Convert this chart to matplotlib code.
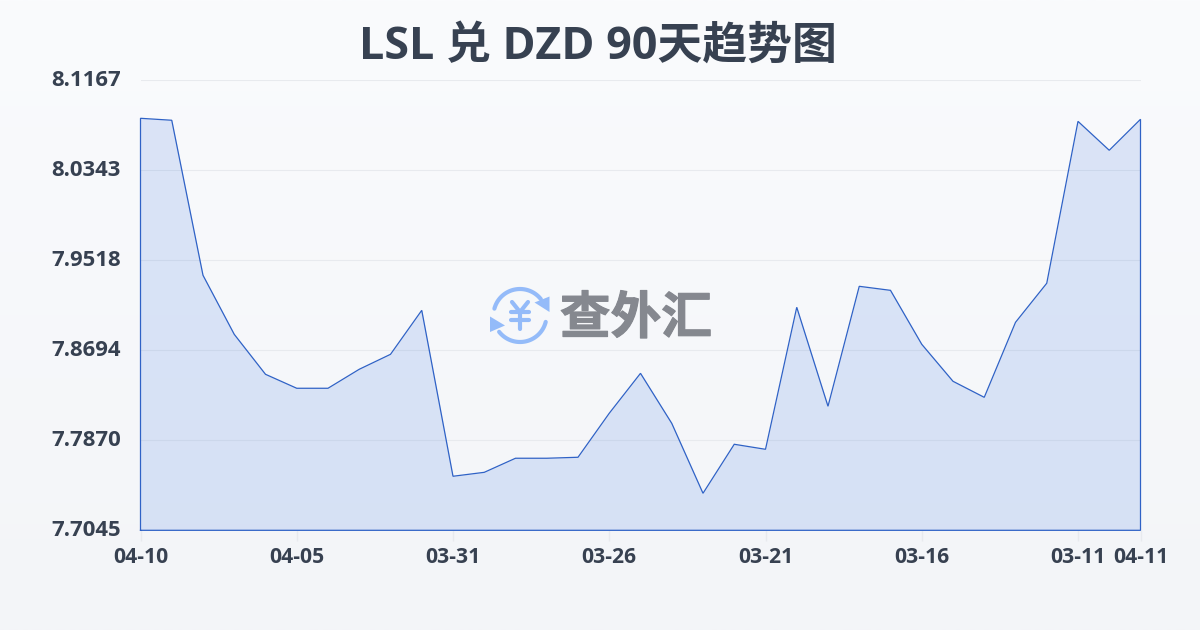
import matplotlib
matplotlib.use('Agg')
import matplotlib.pyplot as plt
import matplotlib.patheffects as pe
from matplotlib.transforms import ScaledTranslation
import numpy as np
from matplotlib.patches import Polygon

plt.rcParams['font.family'] = ['Noto Sans CJK SC', 'DejaVu Sans']

# values, newest first like the x axis
values = [8.0819, 8.0801, 7.9381, 7.8840, 7.8474, 7.8346, 7.8346, 7.8520, 7.8657, 7.9060,
          7.7540, 7.7576, 7.7705, 7.7705, 7.7714, 7.8117, 7.8483, 7.8025, 7.7384, 7.7833,
          7.7787, 7.9088, 7.8181, 7.9280, 7.9243, 7.8749, 7.8410, 7.8263, 7.8950, 7.9308,
          8.0791, 8.0526, 8.0810]
x_pos = [0, 5, 10, 15, 20, 25, 30, 32]
x_labels = ['04-10', '04-05', '03-31', '03-26', '03-21', '03-16', '03-11', '04-11']
y_ticks = [7.7045, 7.7870, 7.8694, 7.9518, 8.0343, 8.1167]
y_labels = ['7.7045', '7.7870', '7.8694', '7.9518', '8.0343', '8.1167']

line_color = '#2f62c6'
fill_color = '#2f6be0'
text_color = '#374151'

fig = plt.figure(figsize=(12, 6.3), dpi=100)

# page background, light vertical gradient
bg = fig.add_axes([0, 0, 1, 1], zorder=0)
bg.imshow(np.linspace(0, 1, 256).reshape(-1, 1), aspect='auto', extent=[0, 1, 0, 1],
          cmap=matplotlib.colors.LinearSegmentedColormap.from_list('bg', ['#fafbfd', '#f3f5f8']))
bg.axis('off')

ax = fig.add_axes([140.5 / 1200, 99.7 / 630, 1000 / 1200, 450 / 630], zorder=1)
ax.patch.set_alpha(0)
xs = np.arange(len(values))
ax.fill_between(xs, values, y_ticks[0], color=fill_color, alpha=0.15, lw=0, zorder=2)
# outline goes all the way round the area
ax.plot(np.r_[xs[0], xs, xs[-1], xs[0]], np.r_[y_ticks[0], values, y_ticks[0], y_ticks[0]],
        color=line_color, lw=0.9, zorder=3, clip_on=False, solid_joinstyle='miter')

ax.set_xlim(0, len(values) - 1)
ax.set_ylim(y_ticks[0], y_ticks[-1])
ax.set_yticks(y_ticks)
ax.set_yticklabels(y_labels)
ax.set_xticks(x_pos)
ax.set_xticklabels(x_labels)
ax.grid(axis='y', color='#e8eaee', lw=0.8, zorder=1)
for s in ax.spines.values():
    s.set_visible(False)
ax.tick_params(axis='y', length=0, pad=14, labelsize=15.9, labelcolor=text_color)
ax.tick_params(axis='x', length=8, width=1, color='#e8eaee', pad=4, labelsize=15.2, labelcolor=text_color)
for t in ax.get_xticklabels() + ax.get_yticklabels():
    t.set_fontfamily(['Open Sans', 'DejaVu Sans'])
    t.set_fontweight('bold')
# y labels sit a little above their grid lines
up = ScaledTranslation(0, 2 / 100, fig.dpi_scale_trans)
for t in ax.get_yticklabels():
    t.set_transform(t.get_transform() + up)

fig.text(597.5 / 1200, 1 - 47 / 630, 'LSL 兑 DZD 90天趋势图', ha='center', va='center',
         fontsize=32.3, fontweight='bold', color=text_color,
         family=['Open Sans', 'Noto Sans CJK SC'])

# watermark, drawn in pixel coordinates
wm = fig.add_axes([0, 0, 1, 1], zorder=2)
wm.set_xlim(0, 1200)
wm.set_ylim(630, 0)
wm.axis('off')
logo_c = '#94bbf9'
cx, cy, r = 520, 315.5, 26.5
a = np.radians(np.linspace(195, 322, 40))
wm.plot(cx + r * np.cos(a), cy + r * np.sin(a), color=logo_c, lw=3, solid_capstyle='round')
a = np.radians(np.linspace(14, 142, 40))
wm.plot(cx + r * np.cos(a), cy + r * np.sin(a), color=logo_c, lw=3, solid_capstyle='round')
wm.add_patch(Polygon([(549.5, 296.5), (549.5, 312), (534.5, 302.5)], color=logo_c, lw=0))
wm.add_patch(Polygon([(490, 316.5), (490, 332), (505, 325.5)], color=logo_c, lw=0))
wm.plot([512, 520, 528], [302, 312, 302], color=logo_c, lw=3, solid_capstyle='round', solid_joinstyle='round')
wm.plot([520, 520], [312, 329], color=logo_c, lw=3, solid_capstyle='round')
wm.plot([511, 529], [312, 312], color=logo_c, lw=3, solid_capstyle='round')
wm.plot([511, 529], [320, 320], color=logo_c, lw=3, solid_capstyle='round')
wm.text(636, 319, '查外汇', ha='center', va='center', fontsize=36.5, fontweight='bold', color='#85888f',
        path_effects=[pe.withStroke(linewidth=0.8, foreground='#85888f')])

fig.savefig('out.png', dpi=100)
